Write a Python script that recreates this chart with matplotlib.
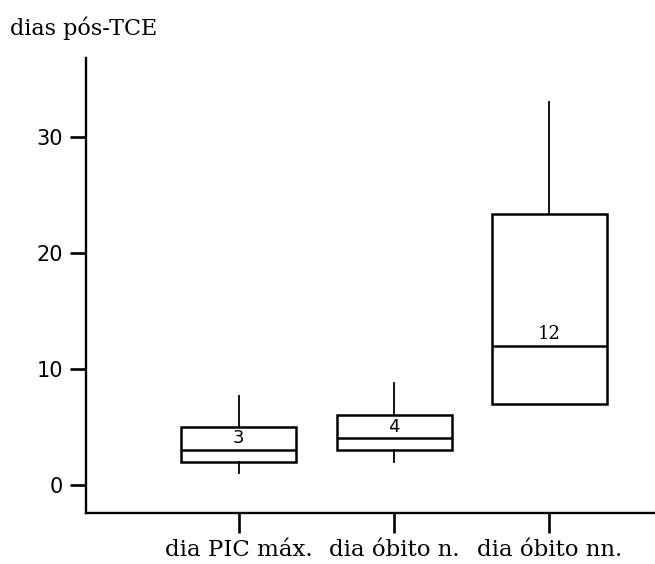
import matplotlib
matplotlib.use("Agg")
import matplotlib.pyplot as plt

categories = ["dia PIC máx.", "dia óbito n.", "dia óbito nn."]
whisker_low = [1.0, 2.0, 7.0]
q1 = [2.0, 3.0, 7.0]
median = [3.0, 4.0, 12.0]
q3 = [5.0, 6.0, 23.3]
whisker_high = [7.7, 8.8, 33.0]
median_labels = ["3", "4", "12"]
yticks = [0, 10, 20, 30]

fig = plt.figure(figsize=(6.55, 5.64), dpi=100)
ax = fig.add_axes([86/655, 1 - 513/564, 1 - 86/655, (513 - 58)/564])

stats = []
for i in range(3):
    stats.append(dict(med=median[i], q1=q1[i], q3=q3[i],
                      whislo=whisker_low[i], whishi=whisker_high[i],
                      fliers=[], label=categories[i]))

ax.bxp(stats, positions=[1, 2, 3], widths=0.74, showfliers=False, showcaps=False,
       patch_artist=True,
       boxprops=dict(facecolor="white", edgecolor="black", linewidth=1.8),
       medianprops=dict(color="black", linewidth=1.8),
       whiskerprops=dict(color="black", linewidth=1.3))

for i in range(3):
    fam = "DejaVu Serif" if i == 2 else "DejaVu Sans"
    ax.text(i + 1, median[i] + 0.25, median_labels[i], ha="center", va="bottom",
            fontsize=13, family=fam, color="black")

ax.set_xlim(0.016, 3.68)
ax.set_ylim(-2.42, 36.77)
ax.set_yticks(yticks)
ax.set_yticklabels([str(t) for t in yticks], fontsize=15, family="DejaVu Sans")
ax.set_xticks([1, 2, 3])
ax.set_xticklabels(categories, fontsize=16.5, family="DejaVu Serif")

ax.spines["top"].set_visible(False)
ax.spines["right"].set_visible(False)
ax.spines["left"].set_linewidth(1.7)
ax.spines["bottom"].set_linewidth(1.7)
ax.tick_params(axis="y", direction="out", length=11.5, width=1.9, pad=5)
ax.tick_params(axis="x", direction="out", length=14.5, width=1.9, pad=4)

fig.text(10/655, 1 - 17/564, "dias pós-TCE", ha="left", va="top",
         fontsize=16, family="DejaVu Serif")

fig.savefig("out.png", dpi=100)
